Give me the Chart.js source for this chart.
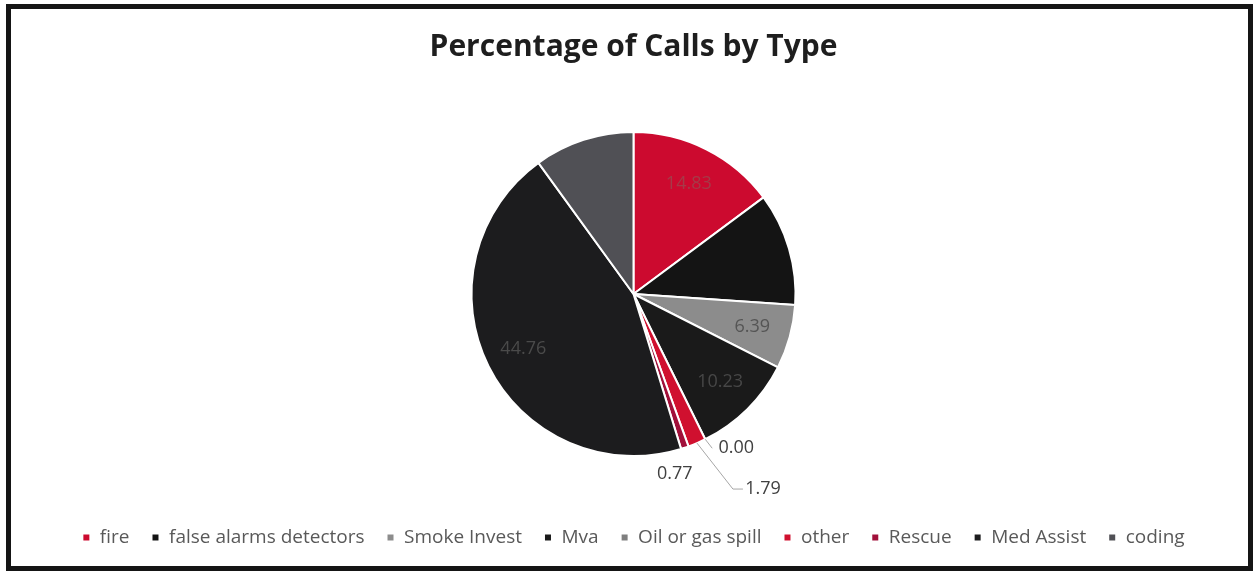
<!DOCTYPE html>
<html>
<head>
<meta charset="utf-8">
<script src="https://cdn.jsdelivr.net/npm/chart.js@4/dist/chart.umd.min.js"></script>
<style>
  html, body { margin: 0; padding: 0; background: #fff; }
  #wrap { position: absolute; left: 0; top: 0; width: 1257px; height: 573px; }
  #frame {
    position: absolute; left: 6px; top: 4px; width: 1237px; height: 557px;
    border: 5px solid #151515; pointer-events: none;
  }
</style>
</head>
<body>
<div id="wrap"><canvas id="pieChart"></canvas></div>
<div id="frame"></div>
<script>
const categories = ['fire', 'false alarms detectors', 'Smoke Invest', 'Mva', 'Oil or gas spill',
                    'other', 'Rescue', 'Med Assist', 'coding'];
const percentages = [14.83, 11.25, 6.39, 10.23, 0.00, 1.79, 0.77, 44.76, 9.98];
// which values get a label drawn (Excel chart had two hidden)
const showLabel = [true, false, true, true, true, true, true, true, false];
const sliceColors = ['#cc0a2f', '#141414', '#8c8c8c', '#1a1a1a', '#7f7f7f',
                     '#d0102f', '#a1103a', '#1c1c1e', '#505055'];
const labelColors = ['#a63a48', '#444', '#555', '#474747', '#444', '#444', '#444', '#4a4a4a', '#444'];
// outside label offsets (from slice edge) for the tiny slices
const outsideOffsets = { 4: [31, 9], 5: [66, 46], 6: [-10, 26] };

const labelPlugin = {
    id: 'sliceLabels',
    afterDatasetsDraw(chart) {
        const c = chart.ctx;
        const meta = chart.getDatasetMeta(0);
        c.save();
        c.font = '18px "Open Sans", sans-serif';
        c.textAlign = 'center';
        c.textBaseline = 'middle';
        meta.data.forEach((arc, i) => {
            if (!showLabel[i]) return;
            const p = arc.getProps(['x', 'y', 'startAngle', 'endAngle', 'outerRadius'], true);
            const mid = (p.startAngle + p.endAngle) / 2;
            const txt = percentages[i].toFixed(2);
            const off = outsideOffsets[i];
            if (off) {
                const ex = p.x + Math.cos(mid) * p.outerRadius;
                const ey = p.y + Math.sin(mid) * p.outerRadius;
                const lx = ex + off[0], ly = ey + off[1];
                c.strokeStyle = '#a6a6a6';
                c.lineWidth = 1;
                c.beginPath();
                c.moveTo(ex, ey);
                if (i === 5) {
                    c.lineTo(lx - 30, ly);
                    c.lineTo(lx - 20, ly);
                } else if (i === 4) {
                    c.lineTo(lx - 24, ly);
                }
                if (i !== 6) c.stroke();
                c.fillStyle = '#404040';
                c.fillText(txt, lx, ly);
            } else {
                const r = p.outerRadius * 0.76;
                c.fillStyle = labelColors[i];
                c.fillText(txt, p.x + Math.cos(mid) * r, p.y + Math.sin(mid) * r);
            }
        });
        c.restore();
    }
};

new Chart(document.getElementById('pieChart'), {
    type: 'pie',
    data: {
        labels: categories,
        datasets: [{
            data: percentages,
            backgroundColor: sliceColors,
            borderColor: '#ffffff',
            borderWidth: 2,
            radius: 162
        }]
    },
    options: {
        responsive: true,
        maintainAspectRatio: false,
        animation: false,
        layout: { padding: { top: 0, bottom: 16, left: 10, right: 0 } },
        plugins: {
            title: {
                display: true,
                text: 'Percentage of Calls by Type',
                color: '#1e1e1e',
                font: { family: 'Open Sans', size: 30, weight: 'bold' },
                padding: { top: 29, bottom: 17 }
            },
            legend: {
                position: 'bottom',
                labels: {
                    color: '#595959',
                    font: { family: 'Open Sans', size: 19 },
                    usePointStyle: true,
                    pointStyle: 'rect',
                    boxWidth: 8,
                    boxHeight: 8,
                    padding: 22
                }
            },
            tooltip: { enabled: false }
        }
    },
    plugins: [labelPlugin]
});
</script>
</body>
</html>
